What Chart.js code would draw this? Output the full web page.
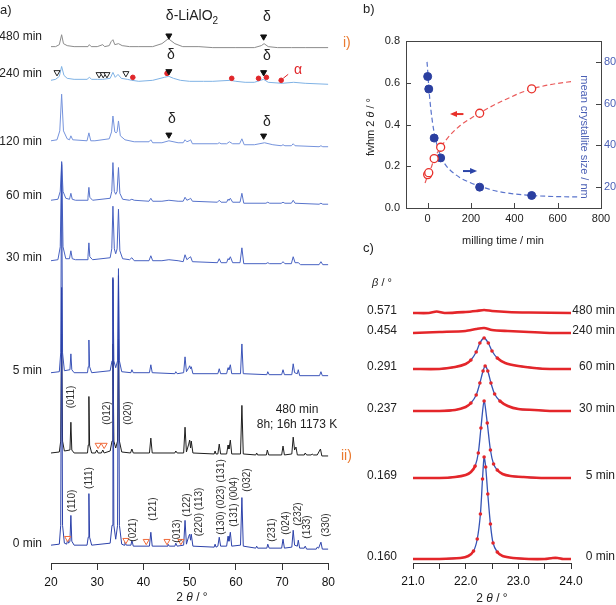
<!DOCTYPE html>
<html>
<head>
<meta charset="utf-8">
<script src="https://cdn.jsdelivr.net/npm/chart.js@4.4.1/dist/chart.umd.min.js"></script>
<style>
  body { margin: 0; width: 616px; height: 605px; position: relative; overflow: hidden; background: #fff;
         font-family: "Liberation Sans", Arial, sans-serif; }
  canvas { position: absolute; }
  .t { position: absolute; white-space: nowrap; line-height: 1; color: #222; }
</style>
</head>
<body>
<canvas id="xrd" width="340" height="605" style="left:0;top:0"></canvas>
<canvas id="fwhm" width="276" height="250" style="left:340px;top:0"></canvas>
<canvas id="peak" width="276" height="355" style="left:340px;top:250px"></canvas>
<script>
// ---- panel a: XRD patterns, [2theta, intensity] ----
const min480 = [[20,0],[21,0],[21.8,2],[22.3,12],[22.7,3],[23.5,1],[25,0],[28,0],[28.3,2],[28.7,0],[30,0],[31.2,2],[31.6,0],[32.6,1],[33.0,5],[33.4,7],[33.8,2],[34.6,3],[35.4,1],[37,0],[39,0],[42,0],[44,3],[45.4,8],[46.8,3],[48.5,0],[52,0],[55,-1],[60,-1],[64,-1],[65.5,1],[66.1,3],[67,0],[69,-1],[72,-1],[75,-1],[80,-1]];
const min240 = [[20,0],[21,1],[21.8,4],[22.3,14],[22.8,5],[23.5,2],[25,1],[27.8,1],[28.3,3],[28.8,1],[30,1],[31.2,1],[32.8,2],[33.4,8],[33.9,3],[34.5,6],[35.2,2],[36.5,1],[37.5,0],[39,-1],[42,0],[44.5,3],[45.5,4],[46.5,2],[48,0],[50,-1],[53,-1],[55,-1],[58.8,0],[60,-1],[62,-2],[64,-2],[66,1],[67,-2],[70,-3],[72.5,-2],[75,-3],[80,-4]];
const min120 = [[20,0],[21.3,1],[21.9,10],[22.3,47],[22.7,10],[23.5,2],[24.0,1],[24.3,5],[24.7,1],[27.8,0],[28.2,8],[28.6,0],[29.5,0],[32.6,2],[33.1,9],[33.4,25],[33.8,9],[34.1,8],[34.3,9],[34.6,20],[35.0,5],[36,1],[38,-1],[41.2,-1],[41.6,1],[42.0,-2],[44,-2],[45.5,0],[47.5,-2],[48.6,-2],[49.0,1],[49.4,-1],[49.9,0],[50.2,1],[50.6,-3],[56.0,-3],[56.4,-2],[56.8,-3],[58.0,-3],[58.6,-1],[59.3,-3],[60.8,-3],[61.3,2],[61.8,-4],[64,-4],[66.2,-2],[68,-4],[69.8,-5],[70.2,-4],[70.6,-5],[72.0,-5],[72.4,-3],[72.8,-5],[78.0,-6],[78.4,-5],[78.8,-6],[80,-6]];
const min60 = [[20,0],[21.5,1],[22.0,9],[22.3,38],[22.6,9],[23.2,2],[24.0,1],[24.3,7],[24.6,1],[25.3,0],[27.8,0],[28.0,3],[28.2,13],[28.4,3],[29,0],[32.8,2],[33.15,9],[33.4,38],[33.7,9],[34.0,6],[34.3,9],[34.6,33],[34.9,7],[35.5,1],[37.0,0],[37.5,1],[38.0,0],[41.2,-1],[41.6,2],[42.0,-1],[44,-1],[45.5,0],[47.5,-1],[48.6,-1],[49.0,3],[49.4,0],[49.9,1],[50.2,2],[50.6,-1],[56.0,-2],[56.4,0],[56.8,-2],[58.0,-2],[58.3,1],[58.5,0],[58.8,2],[59.3,-2],[60.9,-2],[61.3,7],[61.7,-3],[66.5,-3],[66.9,-2],[67.3,-3],[69.8,-3],[70.2,-2],[70.6,-3],[72.0,-3],[72.4,0],[72.8,-3],[78.0,-4],[78.4,-3],[78.8,-4],[80,-4]];
const min30 = [[20,0],[21.5,1],[22.0,14],[22.3,100],[22.6,14],[23.2,2],[24.0,2],[24.3,10],[24.6,2],[25.3,1],[27.8,1],[28.0,4],[28.2,18],[28.4,4],[29,1],[32.8,3],[33.15,12],[33.4,55],[33.7,12],[34.0,7],[34.3,12],[34.6,52],[34.9,10],[35.5,2],[37.0,1],[37.5,3],[38.0,0],[41.2,0],[41.6,5],[42.0,0],[44.0,0],[45.5,1],[47.5,0],[48.6,-1],[49.0,6],[49.4,1],[49.9,3],[50.2,4],[50.6,-1],[56.0,-2],[56.4,2],[56.8,-2],[58.0,-2],[58.3,2],[58.5,1],[58.8,4],[59.3,-2],[60.9,-2],[61.3,13],[61.7,-3],[66.5,-3],[66.9,-2],[67.3,-3],[69.8,-3],[70.2,-1],[70.6,-3],[72.0,-3],[72.4,4],[72.8,-2],[73.5,-2],[74,-4],[78.0,-4],[78.4,-1],[78.8,-4],[80,-4]];
const min5 = [[20,0],[21.8,1],[22.1,20],[22.3,210],[22.5,20],[22.9,2],[24.1,3],[24.3,19],[24.5,3],[25,0],[27.9,0],[28.05,6],[28.2,33],[28.35,6],[28.8,0],[32.8,2],[33.2,12],[33.4,94],[33.6,12],[34.0,5],[34.4,12],[34.6,105],[34.8,12],[35.3,1],[37.3,0],[37.5,3],[37.8,0],[41.3,0],[41.6,8],[41.9,0],[46.8,-1],[47.0,1],[47.3,-1],[48.7,0],[49.0,16],[49.3,1],[49.8,5],[50.0,7],[50.2,4],[50.35,6],[50.7,-1],[56.1,-1],[56.4,4],[56.7,-1],[58.0,-1],[58.3,5],[58.5,3],[58.8,8],[59.1,-1],[61.0,-1],[61.3,29],[61.6,-1],[66.7,-2],[66.9,1],[67.2,-2],[69.9,-2],[70.2,3],[70.5,-2],[72.1,-2],[72.4,9],[72.7,0],[73.3,-1],[73.5,3],[73.8,-3],[78.1,-3],[78.4,1],[78.7,-3],[80,-3]];
const annealed = [[20,0],[21.8,1],[22.1,12],[22.3,120],[22.5,12],[22.9,2],[24.1,3],[24.3,31],[24.5,3],[25,0],[27.9,0],[28.05,8],[28.2,57],[28.35,8],[28.8,0],[29.6,0],[29.9,3],[30.2,0],[30.9,0],[31.2,3],[31.5,0],[32.8,2],[33.2,12],[33.4,110],[33.6,12],[34.0,5],[34.4,12],[34.6,115],[34.8,12],[35.3,1],[37.2,0],[37.5,4],[37.8,0],[41.3,0],[41.6,15],[41.9,0],[46.8,0],[47.0,2],[47.3,0],[48.7,0],[49.0,26],[49.3,1],[49.8,9],[50.0,13],[50.2,5],[50.35,12],[50.7,0],[55.3,-1],[55.5,2],[55.7,-1],[56.1,-1],[56.4,9],[56.7,-1],[58.0,-1],[58.3,8],[58.5,4],[58.8,13],[59.1,-1],[61.0,-1],[61.3,48],[61.6,-1],[64.3,-2],[64.5,0],[64.7,-2],[66.6,-2],[66.8,3],[67.1,-2],[69.9,-2],[70.2,7],[70.5,-2],[72.1,-1],[72.4,16],[72.7,3],[73.0,6],[73.3,-2],[74.8,-2],[75.0,0],[75.3,-2],[76.3,-2],[76.5,-1],[76.8,-2],[77.6,-2],[78.3,4],[78.6,-3],[80,-3]];
const min0 = [[20,0],[21.8,1],[22.1,20],[22.3,260],[22.5,20],[22.9,2],[23.4,1],[23.6,6],[23.8,2],[24.1,4],[24.3,30],[24.5,4],[25,0],[27.8,0],[28.05,8],[28.2,52],[28.35,8],[28.8,0],[32.8,2],[33.2,20],[33.4,270],[33.6,20],[34.0,6],[34.4,20],[34.6,272],[34.8,20],[35.3,1],[35.8,0],[36.0,3],[36.3,0],[37.3,0],[37.5,5],[37.8,-1],[41.3,-1],[41.6,13],[41.9,-1],[45.1,-1],[45.3,1],[45.6,-1],[46.8,-1],[47.0,2],[47.3,-1],[48.7,0],[49.0,25],[49.3,1],[49.8,9],[50.0,11],[50.2,5],[50.35,11],[50.7,-1],[55.3,-2],[55.5,1],[55.7,-2],[56.1,-1],[56.4,8],[56.7,-1],[58.0,-1],[58.3,9],[58.5,4],[58.8,13],[59.1,-1],[61.0,0],[61.3,48],[61.6,-1],[64.3,-3],[64.5,-1],[64.7,-3],[66.7,-3],[66.9,1],[67.2,-3],[69.9,-3],[70.2,6],[70.5,-3],[72.1,-2],[72.4,15],[72.7,0],[73.3,-1],[73.5,5],[73.8,-3],[74.8,-3],[75.0,-1],[75.3,-4],[77.4,-4],[77.6,-2],[77.9,-3],[78.4,3],[78.7,-4],[80,-4]];
const tthTicks = [20, 30, 40, 50, 60, 70, 80];

// markers: [2theta, pattern, height above that pattern's baseline]
const deltaMarks = [[45.5,'min480',11],[66.0,'min480',10],[45.5,'min240',9],[66.0,'min240',8],[45.5,'min120',6],[66.0,'min120',5]];
const openMarks = [[21.3,'min240',8],[30.4,'min240',6],[31.3,'min240',6],[32.1,'min240',6],[36.2,'min240',7]];
const alphaDots = [[37.7,'min240',3],[45.1,'min240',7],[59.1,'min240',2],[64.9,'min240',2],[66.6,'min240',3],[69.8,'min240',0]];
const impurityMarks = [[23.6,'min0',7],[36.2,'min0',5],[40.6,'min0',4],[45.1,'min0',4],[48.1,'min0',4],[30.2,'annealed',8],[31.5,'annealed',8]];

// ---- panel b ----
const millTime = [0, 5, 30, 60, 240, 480];
const fwhmDeg = [0.160, 0.169, 0.237, 0.291, 0.454, 0.571];
const crystSize = [73, 67, 43.5, 34, 20, 16];
const fwhmFit = [[-12,0.12],[0,0.155],[15,0.19],[30,0.235],[60,0.29],[100,0.345],[150,0.395],[200,0.43],[240,0.455],[300,0.49],[360,0.52],[420,0.548],[480,0.57],[560,0.59],[670,0.607]];
const sizeFit = [[-3,80],[0,76],[5,68],[15,57],[30,46],[45,39.5],[60,35],[80,31],[100,28.5],[150,24.5],[200,22],[240,20.5],[300,18.5],[380,17],[480,16],[580,15.5],[700,15.3]];
const timeTicks = [0, 200, 400, 600, 800];
const fwhmTicks = [0, 0.2, 0.4, 0.6, 0.8];
const sizeTicks = [20, 40, 60, 80];

// ---- panel c: (110) peak profiles ----
const prof480 = [[21.0,0],[21.3,0],[21.45,1.5],[21.6,0],[22.0,1],[22.2,2],[22.35,3],[22.5,2],[22.8,1],[23.2,0.5],[24.0,0]];
const prof240 = [[21.0,0],[21.5,1],[22.0,2],[22.2,4],[22.35,5],[22.5,3],[22.8,2],[23.2,1],[23.6,0],[24.0,0]];
const prof60 = [[21.0,0],[21.5,0],[21.8,2],[22.0,5],[22.1,9],[22.2,17],[22.27,26],[22.35,31],[22.43,26],[22.5,18],[22.6,11],[22.75,6],[23.0,3],[23.3,1],[23.6,0],[24.0,0]];
const prof30 = [[21.0,0],[21.5,0],[21.8,1],[22.0,4],[22.1,8],[22.2,16],[22.27,28],[22.33,40],[22.37,45],[22.42,40],[22.48,28],[22.55,17],[22.65,10],[22.8,5],[23.0,2],[23.3,1],[23.6,0],[24.0,0]];
const prof5 = [[21.0,0],[21.5,0],[21.8,1],[22.0,3],[22.1,6],[22.18,12],[22.24,25],[22.29,50],[22.35,77],[22.41,55],[22.47,28],[22.53,14],[22.6,8],[22.7,4],[22.85,2],[23.1,1],[23.5,0],[24.0,0]];
const prof0 = [[21.0,0],[21.5,0],[21.9,1],[22.05,3],[22.15,8],[22.22,20],[22.28,45],[22.32,80],[22.35,102],[22.38,92],[22.42,65],[22.47,35],[22.52,16],[22.6,7],[22.7,3],[22.9,1],[23.2,0],[23.5,0],[23.65,1],[23.75,1],[23.85,0],[24.0,0]];
const betaVals = ['0.571', '0.454', '0.291', '0.237', '0.169', '0.160'];
const profNames = ['480 min', '240 min', '60 min', '30 min', '5 min', '0 min'];
const peakTicks = [21, 21.5, 22, 22.5, 23, 23.5, 24];

Chart.defaults.font.family = '"Liberation Sans", Arial, sans-serif';
Chart.defaults.color = '#222';

// layout: baselines in page pixels
const AXIS_Y = 563;
const rowBase = { min480: 42, min240: 76, min120: 137, min60: 197, min30: 258, min5: 371, annealed: 452, min0: 545 };
const rows = [
  { key: 'min0', pts: min0, color: '#2d42aa' },
  { key: 'min5', pts: min5, color: '#3b54b8' },
  { key: 'annealed', pts: annealed, color: '#1e1e1e' },
  { key: 'min30', pts: min30, color: '#4862c2' },
  { key: 'min60', pts: min60, color: '#5773cb' },
  { key: 'min120', pts: min120, color: '#7593dc' },
  { key: 'min240', pts: min240, color: '#7fb2e5' },
  { key: 'min480', pts: min480, color: '#8c8c8c' }
];
const lift = (key, i) => AXIS_Y - rowBase[key] + i;
const markPts = list => list.map(([x, key, h]) => ({ x, y: lift(key, h) }));

function marker(list, style, fill, stroke, r) {
  return { data: markPts(list), showLine: false, pointStyle: style, rotation: style === 'triangle' ? 180 : 0,
           pointRadius: r, pointBackgroundColor: fill, pointBorderColor: stroke, pointBorderWidth: 1 };
}

const alphaLink = {
  id: 'alphaLink',
  afterDatasetsDraw(chart) {
    const p = chart.getDatasetMeta(2).data[alphaDots.length - 1];
    const c = chart.ctx;
    c.save();
    c.strokeStyle = '#e0262a';
    c.lineWidth = 1;
    c.beginPath();
    c.moveTo(p.x + 2, p.y - 2);
    c.lineTo(p.x + 7, p.y - 6);
    c.stroke();
    c.restore();
  }
};

new Chart(document.getElementById('xrd'), {
  type: 'line',
  data: {
    datasets: [
      marker(deltaMarks, 'triangle', '#111', '#111', 3.5),
      marker(openMarks, 'triangle', '#fff', '#222', 3.5),
      marker(alphaDots, 'circle', '#e0262a', '#e0262a', 2.3),
      marker(impurityMarks, 'triangle', '#fff', '#f06a3a', 3.5),
      ...rows.map(r => ({ data: r.pts.map(([x, i]) => ({ x, y: lift(r.key, i) })), borderColor: r.color,
                          borderWidth: 1, pointRadius: 0, tension: 0 }))
    ]
  },
  options: {
    responsive: false, animation: false, devicePixelRatio: 1,
    layout: { padding: { left: 51, right: 7, top: 0, bottom: 0 } },
    plugins: { legend: { display: false }, tooltip: { enabled: false } },
    scales: {
      x: {
        type: 'linear', min: 20, max: 80,
        afterBuildTicks: s => { s.ticks = tthTicks.map(v => ({ value: v })); },
        afterFit: s => { s.height = 42; },
        grid: { drawOnChartArea: false, tickLength: 7, color: '#333' },
        border: { color: '#333' },
        ticks: { autoSkip: false, maxRotation: 0, padding: 5, color: '#111', font: { size: 12 } }
      },
      y: { display: false, min: 0, max: AXIS_Y }
    }
  },
  plugins: [alphaLink]
});

// ---- panel b ----
const frameTicks = {
  id: 'frameTicks',
  afterDraw(chart) {
    const { ctx: c, chartArea: a, scales: s } = chart;
    c.save();
    c.strokeStyle = '#444';
    c.lineWidth = 1;
    c.strokeRect(a.left + 0.5, a.top + 0.5, a.right - a.left, a.bottom - a.top);
    c.beginPath();
    timeTicks.forEach(v => { const p = Math.round(s.x.getPixelForValue(v)) + 0.5; c.moveTo(p, a.bottom); c.lineTo(p, a.bottom - 5); });
    fwhmTicks.forEach(v => { const p = Math.round(s.y.getPixelForValue(v)) + 0.5; c.moveTo(a.left, p); c.lineTo(a.left + 5, p); });
    sizeTicks.forEach(v => { const p = Math.round(s.y2.getPixelForValue(v)) + 0.5; c.moveTo(a.right, p); c.lineTo(a.right - 5, p); });
    c.stroke();
    // direction arrows
    const arrow = (x0, x1, v, scale, col) => {
      const y = s[scale].getPixelForValue(v), p0 = s.x.getPixelForValue(x0), p1 = s.x.getPixelForValue(x1);
      const d = Math.sign(p1 - p0);
      c.strokeStyle = col; c.fillStyle = col; c.lineWidth = 2;
      c.beginPath(); c.moveTo(p0, y); c.lineTo(p1 - d * 5, y); c.stroke();
      c.beginPath(); c.moveTo(p1, y); c.lineTo(p1 - d * 7, y - 3); c.lineTo(p1 - d * 7, y + 3); c.closePath(); c.fill();
    };
    arrow(165, 103, 0.45, 'y', '#e8302a');
    arrow(163, 228, 27.7, 'y2', '#2b44a8');
    c.restore();
  }
};

new Chart(document.getElementById('fwhm'), {
  type: 'line',
  data: {
    datasets: [
      { data: millTime.map((t, i) => ({ x: t, y: fwhmDeg[i] })), yAxisID: 'y', showLine: false,
        pointRadius: 4, pointBorderWidth: 1.3, pointBorderColor: '#e8302a', pointBackgroundColor: '#fff' },
      { data: millTime.map((t, i) => ({ x: t, y: crystSize[i] })), yAxisID: 'y2', showLine: false,
        pointRadius: 4, pointBorderWidth: 1, pointBorderColor: '#2b3fa0', pointBackgroundColor: '#2b3fa0' },
      { data: fwhmFit.map(([x, y]) => ({ x, y })), yAxisID: 'y', borderColor: '#ea5a5a', borderWidth: 1.2,
        borderDash: [5, 3], pointRadius: 0, cubicInterpolationMode: 'monotone' },
      { data: sizeFit.map(([x, y]) => ({ x, y })), yAxisID: 'y2', borderColor: '#5a74cc', borderWidth: 1.2,
        borderDash: [5, 3], pointRadius: 0, cubicInterpolationMode: 'monotone' }
    ]
  },
  options: {
    responsive: false, animation: false, devicePixelRatio: 1,
    layout: { padding: { left: 0, right: 0, top: 41, bottom: 0 } },
    plugins: { legend: { display: false }, tooltip: { enabled: false } },
    scales: {
      x: {
        type: 'linear', min: -100, max: 800,
        afterBuildTicks: s => { s.ticks = timeTicks.map(v => ({ value: v })); },
        afterFit: s => { s.height = 42; },
        grid: { display: false, drawTicks: false }, border: { display: false },
        ticks: { autoSkip: false, maxRotation: 0, padding: 4, font: { size: 11 }, color: '#222' }
      },
      y: {
        position: 'left', min: 0, max: 0.8,
        afterBuildTicks: s => { s.ticks = fwhmTicks.map(v => ({ value: v })); },
        afterFit: s => { s.width = 66; },
        grid: { display: false, drawTicks: false }, border: { display: false },
        ticks: { padding: 6, font: { size: 11 }, color: '#222', callback: v => v.toFixed(1) }
      },
      y2: {
        position: 'right', min: 10, max: 90,
        afterBuildTicks: s => { s.ticks = sizeTicks.map(v => ({ value: v })); },
        afterFit: s => { s.width = 15; },
        grid: { display: false, drawTicks: false }, border: { display: false },
        ticks: { padding: 3, font: { size: 11 }, color: '#4a5fb5' }
      }
    }
  },
  plugins: [frameTicks]
});

// ---- panel c ----
const PEAK_AXIS = 313;
const profBase = [313, 333, 369, 411, 478, 559];   // page pixels
const profiles = [prof480, prof240, prof60, prof30, prof5, prof0];
const peakSets = [];
profiles.forEach((pts, k) => {
  const off = AXIS_Y - profBase[k];
  const ints = pts.map(p => p[1]);
  const xy = pts.map(([x, i]) => ({ x, y: off + i }));
  const steep = i => ints[i] > 6;
  peakSets.push({ data: xy, borderColor: '#e4262a', borderWidth: 2.6, tension: 0.25,
    segment: { borderColor: c => (steep(c.p0DataIndex) && steep(c.p1DataIndex)) ? 'rgba(0,0,0,0)' : '#e4262a' },
    pointRadius: c => steep(c.dataIndex) ? 1.8 : 0, pointBackgroundColor: '#e4262a', pointBorderWidth: 0 });
  if (Math.max(...ints) > 20) {
    peakSets.push({ data: xy, borderColor: '#3553b5', borderWidth: 1.3, tension: 0.25, pointRadius: 0 });
  }
});

new Chart(document.getElementById('peak'), {
  type: 'line',
  data: { datasets: peakSets },
  options: {
    responsive: false, animation: false, devicePixelRatio: 1,
    layout: { padding: { left: 73, right: 45, top: 0, bottom: 0 } },
    plugins: { legend: { display: false }, tooltip: { enabled: false } },
    scales: {
      x: {
        type: 'linear', min: 21, max: 24,
        afterBuildTicks: s => { s.ticks = peakTicks.map(v => ({ value: v })); },
        afterFit: s => { s.height = 42; },
        grid: { drawOnChartArea: false, tickLength: 6, color: '#333' },
        border: { color: '#333' },
        ticks: { autoSkip: false, maxRotation: 0, padding: 5, color: '#111', font: { size: 12 },
                 callback: v => Number.isInteger(v) ? v.toFixed(1) : '' }
      },
      y: { display: false, min: 0, max: PEAK_AXIS }
    }
  }
});

// ---- free text ----
function put(html, x, y, o = {}) {
  const d = document.createElement('div');
  d.className = 't';
  d.innerHTML = html;
  d.style.left = x + 'px';
  d.style.top = y + 'px';
  d.style.fontSize = (o.size || 12) + 'px';
  if (o.color) d.style.color = o.color;
  const tx = o.align === 'l' ? '0' : o.align === 'r' ? '-100%' : '-50%';
  d.style.transform = `translate(${tx},-50%)` + (o.rot ? ` rotate(${o.rot}deg)` : '');
  document.body.appendChild(d);
}

const rowLabels = [['480 min', 36], ['240 min', 73], ['120 min', 141], ['60 min', 195], ['30 min', 257], ['5 min', 370], ['0 min', 543]];
rowLabels.forEach(([t, y]) => put(t, 42, y, { align: 'r' }));

const hklLabels = [['(110)',72,501],['(111)',89,478],['(021)',133,530],['(121)',153,509],['(013)',177,531],['(122)',187,505],
  ['(220) (113)',199,512],['(130) (023) (131)',221,497],['(131) (004)',234,502],['(032)',247,480],['(231)',272,530],
  ['(024)',286,523],['(232)',298,514],['(133)',307,527],['(330)',326,525],['(011)',71,397],['(012)',107,413],['(020)',128,413]];
hklLabels.forEach(([t, x, y]) => put(t, x, y, { size: 10, rot: -90, color: '#333' }));

put('a)', 0, 9, { align: 'l', size: 13 });
put('&delta;-LiAlO<sub style="font-size:10px">2</sub>', 192, 17, { size: 14 });
put('&delta;', 267, 16, { size: 14 });
put('&delta;', 171, 54, { size: 14 });
put('&delta;', 267, 55, { size: 14 });
put('&delta;', 172, 118, { size: 14 });
put('&delta;', 267, 121, { size: 14 });
put('&alpha;', 294, 69, { size: 14, color: '#e0262a', align: 'l' });
put('480 min', 297, 409);
put('8h; 16h 1173 K', 297, 424);
put('i)', 343, 42, { align: 'l', size: 14, color: '#ea7a30' });
put('ii)', 341, 455, { align: 'l', size: 14, color: '#ea7a30' });
put('2 <i>&theta;</i> / &deg;', 192, 597);

put('b)', 363, 8, { align: 'l', size: 13 });
put('fwhm 2 <i>&theta;</i> / &deg;', 370, 127, { size: 11, rot: -90 });
put('mean crystallite size / nm', 584, 137, { size: 11, rot: 90, color: '#4a5fb5' });
put('milling time / min', 503, 240, { size: 11 });

put('c)', 363, 247, { align: 'l', size: 13 });
put('<i>&beta;</i> / &deg;', 382, 282, { size: 11 });
betaVals.forEach((t, k) => put(t, 397, profBase[k] - 3, { align: 'r' }));
profNames.forEach((t, k) => put(t, 615, profBase[k] - 3, { align: 'r' }));
put('2 <i>&theta;</i> / &deg;', 492, 598);
</script>
</body>
</html>
